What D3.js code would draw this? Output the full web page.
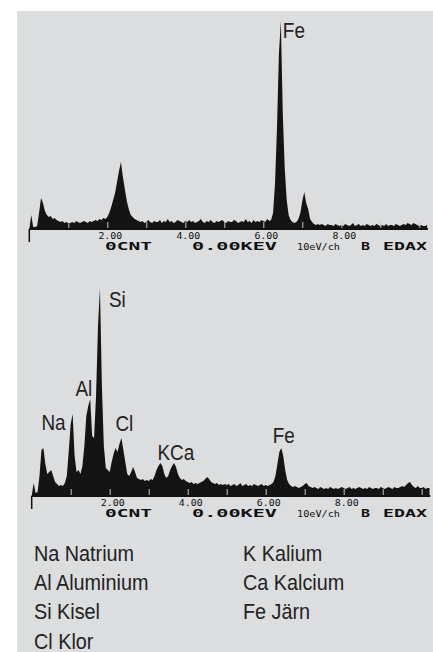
<!doctype html>
<html>
<head>
<meta charset="UTF-8">
<title>EDAX spektra</title>
<script src="https://d3js.org/d3.v7.min.js"></script>
<style>
  body { margin: 0; background: #fff; }
  .mono { font-family: "DejaVu Sans Mono", "Liberation Mono", monospace; fill: #111; }
  .lbl { font-family: "Liberation Sans", Arial, sans-serif; fill: #222; }
</style>
</head>
<body>
<script>
// energy step of the spectra, keV per value
var step = 0.05;

// upper spectrum, one row per keV (20 values of 0.05 keV)
var topCounts = [
  0,14,2,2,3,16,31,26,18,14,12,13,10,11,9,8,7,8,6,7,
  6,6,7,6,8,7,6,7,8,7,6,8,7,8,9,8,10,9,11,10,
  12,16,22,29,36,47,58,67,52,40,28,20,14,12,10,9,8,7,8,6,
  7,9,7,6,8,7,7,9,6,8,7,10,7,8,6,7,9,8,7,6,
  8,7,9,7,8,6,7,8,10,7,6,8,7,9,7,6,8,7,8,9,
  7,6,8,7,7,9,8,6,7,8,7,10,7,8,6,9,7,8,7,9,
  8,7,10,8,9,16,45,100,175,208,115,60,29,14,9,7,6,7,10,16,
  28,37,26,20,10,7,5,4,5,4,5,4,3,5,4,4,3,5,4,3,
  4,3,5,4,3,4,6,3,4,5,3,4,3,5,4,3,4,3,5,4,
  3,4,3,5,3,4,4,3,5,4,3,4,5,4,6,5,4,6,5,4,
  3,4,3,3,4
];

// lower spectrum
var bottomCounts = [
  0,13,3,4,20,46,48,32,22,24,26,20,14,12,10,11,10,13,20,45,
  72,82,40,24,26,22,30,50,80,90,97,60,58,100,170,208,110,50,28,26,
  24,34,42,48,44,52,58,46,34,22,20,24,29,24,18,17,16,17,15,16,
  15,17,16,20,26,30,33,30,22,18,20,26,30,33,29,22,18,16,17,15,
  14,13,14,12,13,12,13,14,15,17,19,17,14,13,12,13,11,12,11,12,
  11,12,10,11,12,10,11,13,10,11,12,10,11,10,12,11,10,11,12,10,
  11,10,11,12,14,20,32,44,48,40,26,16,12,10,9,10,9,8,9,10,
  12,13,10,9,8,9,8,7,9,8,7,8,7,9,8,7,8,7,8,9,
  8,7,8,9,7,8,7,8,9,8,7,8,7,9,8,7,8,8,7,9,
  8,7,8,9,8,7,9,8,8,9,10,9,11,13,14,11,9,8,10,8,
  8,9,7,8,8
];

var tickLabels = [2, 4, 6, 8];
var minorTicks = [1, 2, 3, 4, 5, 6, 7, 8, 9, 10];
var footer = ["0CNT", "0.00KEV", "10eV/ch", "B", "EDAX"];

var topPeaks = ["Fe"];
var topPeakKeV = [6.45];
var bottomPeaks = ["Na", "Al", "Si", "Cl", "KCa", "Fe"];
var bottomPeakKeV = [1.05, 1.5, 1.75, 2.3, 3.3, 6.4];

var legendSymbols = ["Na", "Al", "Si", "Cl", "K", "Ca", "Fe"];
var legendNames = ["Natrium", "Aluminium", "Kisel", "Klor", "Kalium", "Kalcium", "Järn"];

var W = 433, H = 652;
var svg = d3.select("body").append("svg").attr("width", W).attr("height", H);

svg.append("rect").attr("x", 17).attr("y", 11).attr("width", W - 17).attr("height", H - 11)
   .attr("fill", "#dcdddf");

// label placement per peak: dx from peak, dy from peak top, anchor
var topLayout = [[2, 17, "start"]];
var bottomLayout = [[-7, 16, "end"], [2, -3, "end"], [9, 19, "start"], [-6, -7, "start"], [-3, -3, "start"], [2.5, -5, "middle"]];

drawSpectrum(topCounts, 29.3, 229, topPeaks, topPeakKeV, topLayout);
drawSpectrum(bottomCounts, 31.7, 496, bottomPeaks, bottomPeakKeV, bottomLayout);

function drawSpectrum(counts, x0, y0, peaks, peakKeV, layout) {
  var x = d3.scaleLinear().domain([0, 10.22]).range([x0, x0 + 10.22 * 39]);
  var y = d3.scaleLinear().domain([0, 210]).range([y0, y0 - 210]);
  var g = svg.append("g");

  var area = d3.area()
      .x(function(d, i) { return x(i * step); })
      .y0(y(0))
      .y1(function(d) { return y(d); });

  g.append("path").datum(counts).attr("d", area).attr("fill", "#141414");

  // light tick marks inside the fill
  g.append("g").attr("transform", "translate(0," + (y0 - 1) + ")")
    .call(d3.axisBottom(x).tickValues(minorTicks).tickSize(-6).tickFormat(""))
    .call(function(s) {
      s.select(".domain").remove();
      s.selectAll("line").attr("stroke", "#c4c4c4").attr("stroke-width", 1);
    });

  // axis line
  g.append("line").attr("x1", x(0)).attr("x2", x(10.22)).attr("y1", y0).attr("y2", y0)
    .attr("stroke", "#111").attr("stroke-width", 2);
  // cursor
  g.append("line").attr("x1", x(0)).attr("x2", x(0)).attr("y1", y0).attr("y2", y0 + 13)
    .attr("stroke", "#111").attr("stroke-width", 1.5);

  // energy labels
  g.selectAll("text.tl").data(tickLabels).enter().append("text")
    .attr("class", "mono tl")
    .attr("transform", function(d) { return "translate(" + (x(d) + 3) + "," + (y0 + 10) + ") scale(1.1,1)"; })
    .attr("text-anchor", "middle")
    .attr("font-size", 9)
    .attr("fill", "#333")
    .text(function(d) { return d3.format(".2f")(d); });

  // status line, glyphs stretched to the wide EDAX font
  var fx = [105, 192, 297, 361, 383];
  var fw = [47, 85, 43, 9, 44];
  var fs = [10, 10, 8, 10, 10];
  g.selectAll("text.ft").data(footer).enter().append("text")
    .attr("class", "mono ft")
    .attr("transform", function(d, i) {
      var sx = fw[i] / (d.length * 0.602 * fs[i]);
      return "translate(" + fx[i] + "," + (y0 + 21) + ") scale(" + sx + ",1)";
    })
    .attr("font-size", function(d, i) { return fs[i]; })
    .attr("font-weight", function(d, i) { return i == 2 ? "normal" : "bold"; })
    .text(function(d) { return d; });

  // element labels
  g.selectAll("text.pk").data(peaks).enter().append("text")
    .attr("class", "lbl pk")
    .attr("transform", function(d, i) {
      var idx = Math.round(peakKeV[i] / step);
      return "translate(" + (x(peakKeV[i]) + layout[i][0]) + "," + (y(counts[idx]) + layout[i][1]) + ") scale(0.86,1)";
    })
    .attr("text-anchor", function(d, i) { return layout[i][2]; })
    .attr("font-size", 22)
    .text(function(d) { return d; });
}

// legend
svg.selectAll("text.lg").data(legendSymbols).enter().append("text")
  .attr("class", "lbl lg")
  .attr("transform", function(d, i) {
    return "translate(" + (i < 4 ? 34 : 243) + "," + (561 + (i % 4) * 29.2) + ") scale(0.88,1)";
  })
  .attr("font-size", 22.5)
  .text(function(d, i) { return d + " " + legendNames[i]; });
</script>
</body>
</html>
